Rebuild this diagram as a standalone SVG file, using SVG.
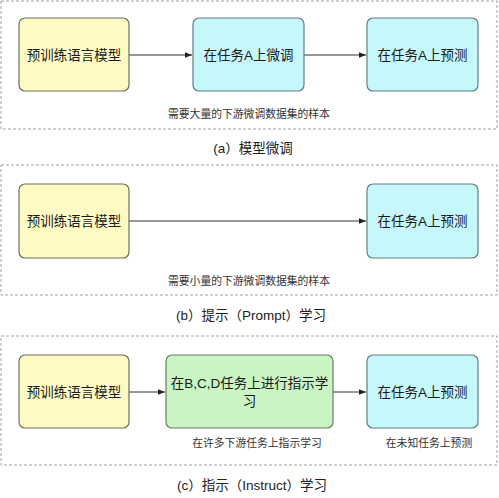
<svg xmlns="http://www.w3.org/2000/svg" width="499" height="498" viewBox="0 0 499 498">
<style>
.frame{fill:none;stroke:#a0a0a0;stroke-width:1;stroke-dasharray:3,2}
.yel{fill:#fdfbc3;stroke:#6e6e5a;stroke-width:1.2}
.cyan{fill:#c6f7fb;stroke:#5f7f85;stroke-width:1.2}
.grn{fill:#c9f5c2;stroke:#62805f;stroke-width:1.2}
.nt{font-family:"Liberation Sans","Noto Sans CJK SC",sans-serif;font-size:13.5px;fill:#1a1a1a;text-anchor:middle}
.lb{font-family:"Liberation Sans","Noto Sans CJK SC",sans-serif;font-size:10.8px;fill:#333;text-anchor:middle}
.cap{font-family:"Liberation Sans","Noto Sans CJK SC",sans-serif;font-size:13.5px;fill:#222;text-anchor:middle}
.edge{stroke:#333;stroke-width:1;fill:none;marker-end:url(#ah)}
</style>
<defs>
<marker id="ah" viewBox="0 0 10 10" refX="10" refY="5" markerWidth="7" markerHeight="7" markerUnits="userSpaceOnUse" orient="auto">
<path d="M0,1 L10,5 L0,9 Z" fill="#222"/>
</marker>
</defs>
<rect width="499" height="498" fill="#ffffff"/>
<g id="frames">
<rect class="frame" x="1" y="1" width="496" height="128"/>
<rect class="frame" x="1" y="165" width="496" height="130"/>
<rect class="frame" x="1" y="336" width="496" height="129"/>
</g>
<g id="connectors">
<line class="edge" x1="129" y1="55" x2="192" y2="55"/>
<line class="edge" x1="304" y1="55" x2="366" y2="55"/>
<line class="edge" x1="129" y1="221" x2="366" y2="221"/>
<line class="edge" x1="129" y1="392" x2="165" y2="392"/>
<line class="edge" x1="333" y1="392" x2="366" y2="392"/>
</g>
<g id="a-pretrain"><rect class="yel" x="19" y="18" width="110" height="73" rx="6"/><text class="nt" x="74" y="60">预训练语言模型</text></g>
<g id="a-finetune"><rect class="cyan" x="193" y="18" width="111" height="73" rx="6"/><text class="nt" x="248.5" y="60">在任务A上微调</text></g>
<g id="a-predict"><rect class="cyan" x="367" y="18" width="111" height="73" rx="6"/><text class="nt" x="422.5" y="60">在任务A上预测</text></g>
<text class="lb" x="249" y="118">需要大量的下游微调数据集的样本</text>
<text class="cap" x="253" y="153">(a）模型微调</text>
<g id="b-pretrain"><rect class="yel" x="19" y="184" width="110" height="74" rx="6"/><text class="nt" x="74" y="226">预训练语言模型</text></g>
<g id="b-predict"><rect class="cyan" x="367" y="184" width="111" height="74" rx="6"/><text class="nt" x="422.5" y="226">在任务A上预测</text></g>
<text class="lb" x="249" y="285">需要小量的下游微调数据集的样本</text>
<text class="cap" x="251" y="320">(b）提示（Prompt）学习</text>
<g id="c-pretrain"><rect class="yel" x="19" y="355" width="110" height="73" rx="6"/><text class="nt" x="74" y="397">预训练语言模型</text></g>
<g id="c-instruct"><rect class="grn" x="166" y="355" width="167" height="73" rx="6"/><text class="nt" x="249.5" y="388">在B,C,D任务上进行指示学</text><text class="nt" x="249.5" y="406">习</text></g>
<g id="c-predict"><rect class="cyan" x="367" y="355" width="111" height="73" rx="6"/><text class="nt" x="422.5" y="397">在任务A上预测</text></g>
<text class="lb" x="257" y="447">在许多下游任务上指示学习</text>
<text class="lb" x="429" y="447">在未知任务上预测</text>
<text class="cap" x="252" y="490">(c）指示（Instruct）学习</text>
</svg>
